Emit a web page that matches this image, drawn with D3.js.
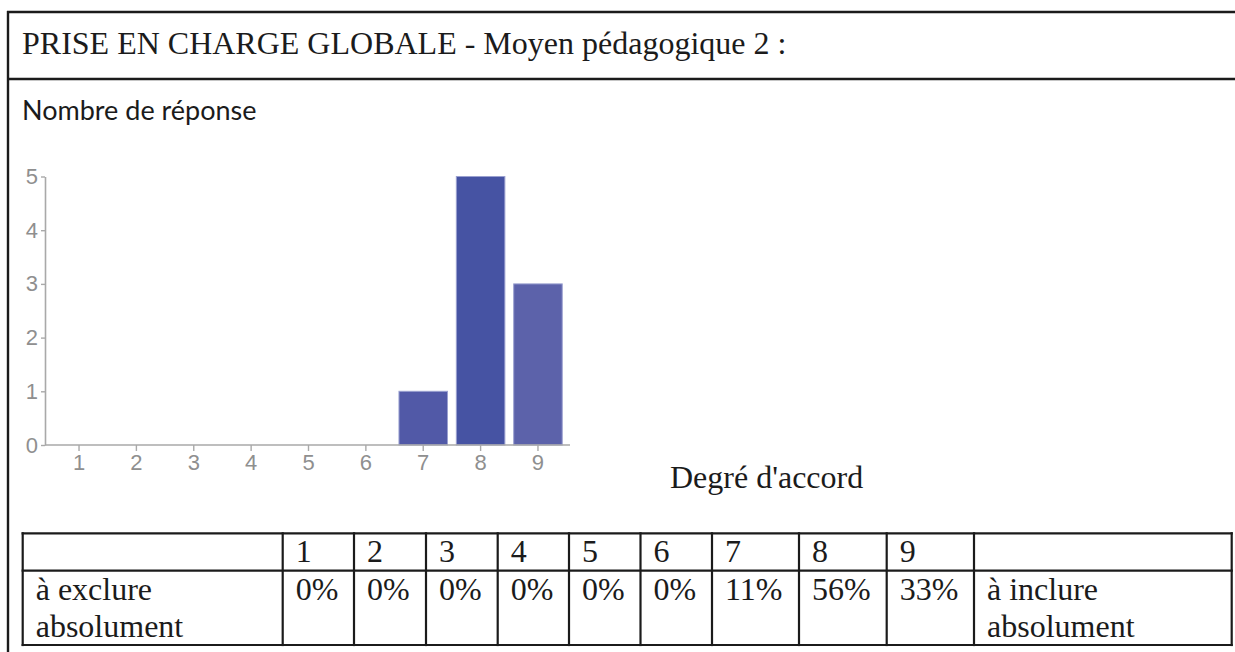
<!DOCTYPE html>
<html lang="fr">
<head>
<meta charset="utf-8">
<title>Prise en charge globale - Moyen pédagogique 2</title>
<script src="https://cdn.jsdelivr.net/npm/d3@7"></script>
<style>
  html, body { margin: 0; padding: 0; background: #fff; }
  svg { display: block; }
</style>
</head>
<body>
<svg id="fig" width="1235" height="652"></svg>
<script>
// ---- data ----
const degrees = [1, 2, 3, 4, 5, 6, 7, 8, 9];
const counts = [0, 0, 0, 0, 0, 0, 1, 5, 3];
const yTickValues = [0, 1, 2, 3, 4, 5];
const barColors = ["#5159a7", "#5159a7", "#5159a7", "#5159a7", "#5159a7", "#5159a7", "#5159a7", "#4653a3", "#5c62aa"];
const titleText = "PRISE EN CHARGE GLOBALE - Moyen pédagogique 2 :";
const yAxisTitle = "Nombre de réponse";
const xAxisTitle = "Degré d'accord";
const lowLabel = ["à exclure", "absolument"];
const highLabel = ["à inclure", "absolument"];

const total = d3.sum(counts);
const percentLabels = counts.map(c => Math.round(c / total * 100) + "%");

// ---- layout ----
const serif = "'Liberation Serif', 'Times New Roman', serif";
const sans = "'Liberation Sans', Arial, sans-serif";
const svg = d3.select("#fig");

// outer frame: left edge, top edge, title separator
const frame = svg.append("g").attr("stroke", "#1b1b1b").attr("stroke-width", 2.4);
frame.append("line").attr("x1", 8).attr("x2", 8).attr("y1", 11).attr("y2", 652);
frame.append("line").attr("x1", 7).attr("x2", 1235).attr("y1", 12).attr("y2", 12);
frame.append("line").attr("x1", 7).attr("x2", 1235).attr("y1", 79).attr("y2", 79);

svg.append("text")
  .attr("x", 22).attr("y", 54)
  .attr("font-family", serif).attr("font-size", 32).attr("fill", "#1b1b1b")
  .text(titleText);

svg.append("text")
  .attr("x", 22).attr("y", 120)
  .attr("font-family", "Lato, 'Open Sans', sans-serif").attr("font-size", 27).attr("fill", "#1b1b1b")
  .text(yAxisTitle);

// ---- bar chart ----
const x = d3.scaleBand()
  .domain(degrees)
  .range([50.35, 566.65])
  .paddingInner(0.154)
  .paddingOuter(0.077);

const y = d3.scaleLinear().domain([0, 5]).range([445, 176.5]);

const chart = svg.append("g");

chart.selectAll("rect.bar")
  .data(degrees.map((d, i) => ({ d, v: counts[i], c: barColors[i] })).filter(e => e.v > 0))
  .join("rect")
  .attr("class", "bar")
  .attr("x", e => x(e.d))
  .attr("width", x.bandwidth())
  .attr("y", e => y(e.v))
  .attr("height", e => y(0) - y(e.v))
  .attr("fill", e => e.c)
  .attr("stroke", "#9aa0d0")
  .attr("stroke-width", 1);

const axisColor = "#a9a9a9";
const labelColor = "#8f8f8f";

const yAxis = chart.append("g")
  .attr("transform", "translate(45,0)")
  .call(d3.axisLeft(y).tickValues(yTickValues).tickFormat(d3.format("d"))
    .tickSize(4).tickSizeOuter(0).tickPadding(3));
yAxis.select(".domain").attr("stroke", axisColor).attr("stroke-width", 1.6);
yAxis.selectAll(".tick line").attr("stroke", axisColor).attr("stroke-width", 1.4);
yAxis.selectAll(".tick text")
  .attr("font-family", sans).attr("font-size", 22).attr("fill", labelColor);

const xAxis = chart.append("g")
  .attr("transform", `translate(0,${y(0)})`)
  .call(d3.axisBottom(x).tickSize(6).tickSizeOuter(0).tickPadding(3));
xAxis.select(".domain").remove();
xAxis.append("line")
  .attr("x1", 45).attr("x2", 570).attr("y1", 0).attr("y2", 0)
  .attr("stroke", axisColor).attr("stroke-width", 1.6);
xAxis.selectAll(".tick line").attr("stroke", axisColor).attr("stroke-width", 1.4);
xAxis.selectAll(".tick text")
  .attr("font-family", sans).attr("font-size", 22).attr("fill", labelColor);

svg.append("text")
  .attr("x", 670).attr("y", 488)
  .attr("font-family", serif).attr("font-size", 32).attr("fill", "#1b1b1b")
  .text(xAxisTitle);

// ---- summary table ----
const colEdges = [22.7, 282.7, 354, 426, 497.7, 569, 640.5, 712, 799, 886.7, 974, 1231.7];
const rowEdges = [533.3, 570.7, 645];
const pad = 13;

const table = svg.append("g");
const border = table.append("g").attr("stroke", "#1b1b1b").attr("stroke-width", 2.2);
rowEdges.forEach(ry => border.append("line")
  .attr("x1", colEdges[0] - 1.1).attr("x2", colEdges[colEdges.length - 1] + 1.1)
  .attr("y1", ry).attr("y2", ry));
colEdges.forEach(cx => border.append("line")
  .attr("x1", cx).attr("x2", cx)
  .attr("y1", rowEdges[0] - 1.1).attr("y2", rowEdges[2] + 1.1));

const cellText = table.append("g")
  .attr("font-family", serif).attr("font-size", 32).attr("fill", "#1b1b1b");

// header row: degree numbers
cellText.selectAll("text.head")
  .data(degrees)
  .join("text")
  .attr("class", "head")
  .attr("x", (d, i) => colEdges[i + 1] + pad)
  .attr("y", 562)
  .text(d => d);

// second row: percentages
cellText.selectAll("text.pct")
  .data(percentLabels)
  .join("text")
  .attr("class", "pct")
  .attr("x", (d, i) => colEdges[i + 1] + pad)
  .attr("y", 600)
  .text(d => d);

// end labels
[[lowLabel, colEdges[0]], [highLabel, colEdges[10]]].forEach(([lines, left]) => {
  cellText.append("text")
    .attr("x", left + pad)
    .selectAll("tspan")
    .data(lines)
    .join("tspan")
    .attr("x", left + pad)
    .attr("y", (d, i) => 600 + i * 37)
    .text(d => d);
});
</script>
</body>
</html>
